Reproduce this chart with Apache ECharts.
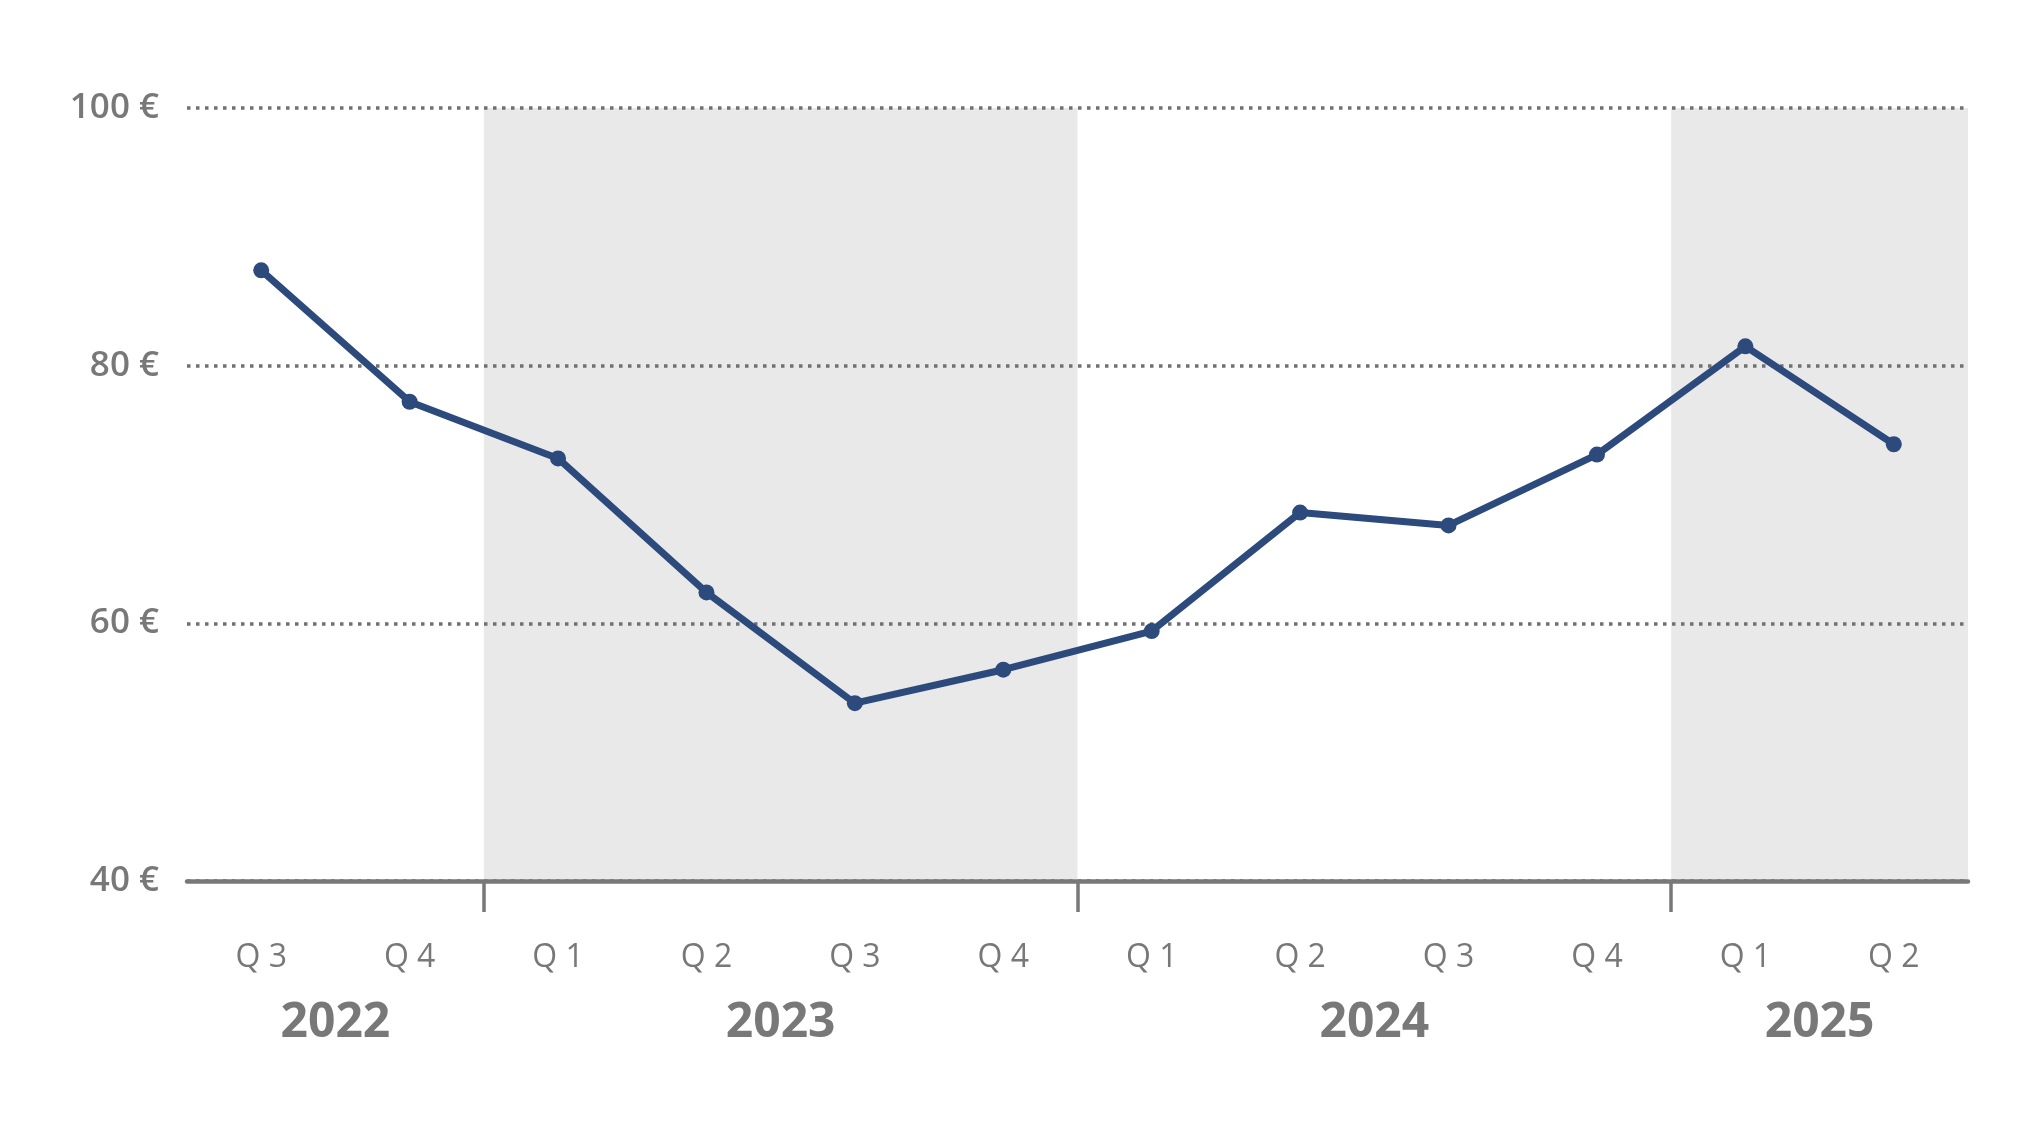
<!DOCTYPE html>
<html>
<head>
<meta charset="utf-8">
<title>Quarterly price</title>
<script src="https://cdn.jsdelivr.net/npm/echarts@6/dist/echarts.min.js"></script>
<style>
  html, body { margin: 0; padding: 0; background: #fff; }
  #chart { width: 2041px; height: 1133px; }
</style>
</head>
<body>
<div id="chart"></div>
<script>
    // 数据
    var quarters = ['Q3', 'Q4', 'Q1', 'Q2', 'Q3', 'Q4', 'Q1', 'Q2', 'Q3', 'Q4', 'Q1', 'Q2'];
    var prices = [87.4, 77.2, 72.8, 62.4, 53.8, 56.4, 59.4, 68.6, 67.6, 73.1, 81.5, 73.9];
    var years = ['2022', '2023', '2024', '2025'];
    var quartersPerYear = [2, 4, 4, 2];
    var yTicks = [40, 60, 80, 100];

    var grey = '#787878';
    var font = '"Open Sans", "Noto Sans", sans-serif';

    // 年份边界、标签位置和灰色背景
    var boundaries = [];
    var yearCenters = {};
    var shaded = [];
    var start = 0;
    years.forEach(function(y, i) {
        var end = start + quartersPerYear[i];
        yearCenters[start + quartersPerYear[i] / 2] = y;
        if (i > 0) boundaries.push(start);
        if (i % 2 === 1) shaded.push([{ xAxis: start }, { xAxis: end }]);
        start = end;
    });

    var myChart = echarts.init(document.getElementById('chart'));
    var option = {
        backgroundColor: '#fff',
        animation: false,
        grid: { left: 187, right: 73, top: 108, bottom: 252 },
        xAxis: [
            {
                type: 'category',
                data: quarters,
                boundaryGap: true,
                axisLine: { lineStyle: { color: grey, width: 4.5 } },
                axisTick: { show: false },
                axisLabel: {
                    color: grey,
                    fontFamily: font,
                    fontSize: 32,
                    margin: 61,
                    formatter: function(v) { return v.replace('Q', 'Q '); }
                },
                z: 5
            },
            {
                type: 'value',
                min: 0,
                max: quarters.length,
                position: 'bottom',
                splitLine: { show: false },
                axisLine: { show: false },
                axisTick: {
                    show: true,
                    customValues: boundaries,
                    length: 31,
                    lineStyle: { color: grey, width: 3.5 }
                },
                axisLabel: {
                    customValues: Object.keys(yearCenters).map(Number),
                    formatter: function(v) { return yearCenters[v] || ''; },
                    color: grey,
                    fontFamily: font,
                    fontSize: 48,
                    fontWeight: 'bold',
                    margin: 118
                },
                z: 5
            }
        ],
        yAxis: {
            type: 'value',
            min: yTicks[0],
            max: yTicks[yTicks.length - 1],
            interval: 20,
            z: 3,
            axisLine: { show: false },
            axisTick: { show: false },
            splitLine: { lineStyle: { color: '#707070', width: 3.5, type: [3.5, 5.5] } },
            axisLabel: {
                color: grey,
                fontFamily: font,
                fontSize: 35,
                fontWeight: 600,
                margin: 28,
                formatter: '{value} €'
            }
        },
        series: [
            {
                name: 'bg',
                type: 'line',
                xAxisIndex: 1,
                data: [],
                silent: true,
                z: 1,
                markArea: {
                    silent: true,
                    itemStyle: { color: '#e9e9e9' },
                    data: shaded
                }
            },
            {
                name: 'price',
                type: 'line',
                data: prices,
                xAxisIndex: 0,
                symbol: 'circle',
                symbolSize: 16,
                lineStyle: { color: '#2c4a7c', width: 7 },
                itemStyle: { color: '#2c4a7c' },
                z: 10
            }
        ]
    };
    myChart.setOption(option);
</script>
</body>
</html>
